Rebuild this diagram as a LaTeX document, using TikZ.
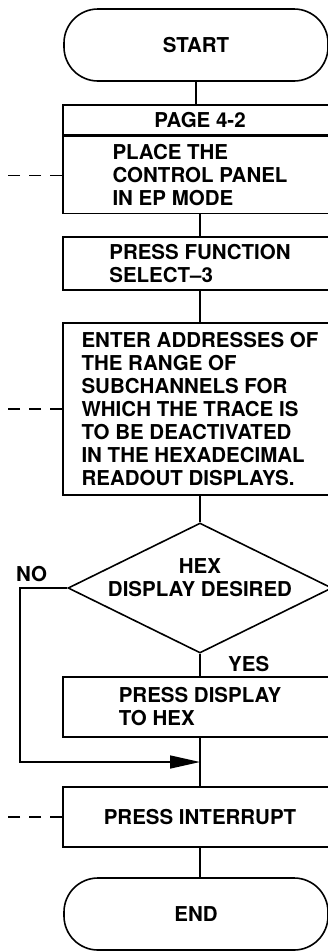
\documentclass[tikz,border=0pt]{standalone}
\usepackage{fontspec}
\setmainfont{TeX Gyre Heros}
\usetikzlibrary{arrows.meta,positioning,calc,shapes.geometric}

\begin{document}
\begin{tikzpicture}[x=1pt,y=-1pt,
    every node/.style={font=\bfseries\fontsize{20.5}{23}\selectfont},
    flow/.style={line width=1.6pt},
    stepbox/.style={draw,line width=1.6pt,minimum width=274pt,align=left,inner sep=0pt},
    terminal/.style={draw,line width=1.6pt,rounded corners=34pt,minimum width=264pt,minimum height=72pt},
    decision/.style={draw,diamond,line width=1.6pt,minimum width=264pt,minimum height=130pt,inner sep=0pt},
    leader/.style={line width=1.2pt,dash pattern=on 12pt off 9pt},
    lbl/.style={inner sep=0pt}]
  \useasboundingbox (0,0) rectangle (328,951);
  \clip (0,0) rectangle (328,951);
  \coordinate (edge) at (0,0);

  \node[terminal] (start) at (196,45) {START};
  \node[stepbox,minimum height=30pt] (page) at (200,120) {PAGE 4-2};
  \node[stepbox,minimum height=77pt,below=0pt of page] (place) {PLACE THE\\CONTROL PANEL\\IN EP MODE};
  \node[stepbox,minimum height=53pt] (func) at (200,263.5) {PRESS FUNCTION\\SELECT--3};
  \node[stepbox,minimum height=172pt] (addr) at (200,409) {ENTER ADDRESSES OF\\THE RANGE OF\\SUBCHANNELS FOR\\WHICH THE TRACE IS\\TO BE DEACTIVATED\\IN THE HEXADECIMAL\\READOUT DISPLAYS.};
  \node[decision] (hex) at (200,588) {};
  \node[align=center] (hextext) at (200,578) {HEX\\DISPLAY DESIRED};
  \node[stepbox,minimum height=60pt] (disp) at (200,707) {PRESS DISPLAY\\TO HEX};
  \node[stepbox,minimum height=60pt] (intr) at (200,817) {PRESS INTERRUPT};
  \node[terminal] (stop) at (196,914) {END};

  \node[lbl,anchor=south east] (no) at ([xshift=-20pt,yshift=6pt]hex.west) {NO};
  \node[lbl,anchor=north west] (yes) at ([xshift=28pt,yshift=-2pt]hex.south) {YES};

  \draw[flow] (start) -- (start |- page.north);
  \draw[flow] (place) -- (func);
  \draw[flow] (func) -- (addr);
  \draw[flow] (addr) -- (hex);
  \draw[flow] (hex) -- (disp);
  \draw[flow] (disp) -- (intr);
  \draw[flow] (intr) -- (intr |- stop.north);
  \coordinate (merge) at ($(disp.south)!0.5!(intr.north)$);
  \draw[flow,-{Triangle[length=30pt,width=13pt]}] (hex.west) -- ++(-47,0) |- (merge);

  \draw[leader] (place.west) -- (place.west -| edge);
  \draw[leader] (addr.west) -- (addr.west -| edge);
  \draw[leader] (intr.west) -- (intr.west -| edge);
\end{tikzpicture}
\end{document}
